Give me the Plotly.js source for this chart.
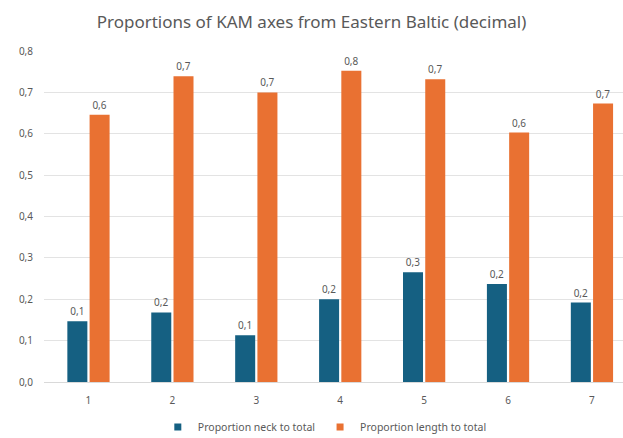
<!DOCTYPE html>
<html>
<head>
<meta charset="utf-8">
<script src="https://cdn.plot.ly/plotly-3.0.1.min.js"></script>
<style>html,body{margin:0;padding:0;background:#fff;}#chart{width:623px;height:438px;}</style>
</head>
<body>
<div id="chart"></div>
<script>
var categories = ["1", "2", "3", "4", "5", "6", "7"];
var neckValues = [0.147, 0.168, 0.113, 0.200, 0.265, 0.237, 0.192];
var lengthValues = [0.646, 0.739, 0.700, 0.752, 0.732, 0.603, 0.673];
var seriesNames = ["Proportion neck to total", "Proportion length to total"];
var seriesColors = ["#156082", "#E97132"];
var yTicks = [0, 0.1, 0.2, 0.3, 0.4, 0.5, 0.6, 0.7, 0.8];

var xPos = categories.map(function (c) { return Number(c); });
var fam = "Noto Sans, Open Sans, sans-serif";
var labelFont = {family: fam, size: 10, color: "#595959"};

var traces = [
  {
    type: "bar", name: seriesNames[0], x: xPos, y: neckValues,
    marker: {color: seriesColors[0]}, showlegend: false,
    texttemplate: "%{y:.1f}", textposition: "outside", cliponaxis: false,
    textfont: labelFont, hoverinfo: "skip"
  },
  {
    type: "bar", name: seriesNames[1], x: xPos, y: lengthValues,
    marker: {color: seriesColors[1]}, showlegend: false,
    texttemplate: "%{y:.1f}", textposition: "outside", cliponaxis: false,
    textfont: labelFont, hoverinfo: "skip"
  },
  {
    type: "scatter", mode: "markers", name: seriesNames[0], x: [null], y: [null],
    marker: {symbol: "square", size: 7, color: seriesColors[0]}, hoverinfo: "skip"
  },
  {
    type: "scatter", mode: "markers", name: seriesNames[1], x: [null], y: [null],
    marker: {symbol: "square", size: 7, color: seriesColors[1]}, hoverinfo: "skip"
  }
];

var layout = {
  width: 623, height: 438,
  margin: {l: 44, r: 0, t: 51, b: 56, autoexpand: false},
  paper_bgcolor: "#ffffff", plot_bgcolor: "#ffffff",
  separators: ",.",
  barmode: "group", bargap: 0.47, bargroupgap: 0.1,
  title: {text: "Proportions of KAM axes from Eastern Baltic (decimal)",
          x: 0.5, xref: "container", xanchor: "center", y: 0.95, yanchor: "middle",
          font: {family: fam, size: 17, color: "#595959"}},
  xaxis: {
    range: [0.47, 7.37], tickmode: "array", tickvals: xPos, ticktext: categories,
    showgrid: false, zeroline: false, showline: true, linecolor: "#d9d9d9", linewidth: 1,
    ticks: "", tickfont: labelFont, ticklabelstandoff: 9, fixedrange: true, automargin: false
  },
  yaxis: {
    range: [0, 0.8], tickmode: "array", tickvals: yTicks, tickformat: ".1f",
    showgrid: true, gridcolor: "#e3e3e3", gridwidth: 1, zeroline: false,
    ticks: "", tickfont: labelFont, ticklabelstandoff: 10, fixedrange: true, automargin: false
  },
  showlegend: true,
  legend: {orientation: "h", x: 0.485, xanchor: "center", yref: "container", y: 0.025, yanchor: "middle",
           font: {family: fam, size: 10.5, color: "#595959"},
           itemwidth: 30, traceorder: "normal"},
  font: {family: fam}
};

Plotly.newPlot("chart", traces, layout, {displayModeBar: false, staticPlot: true});
</script>
</body>
</html>
